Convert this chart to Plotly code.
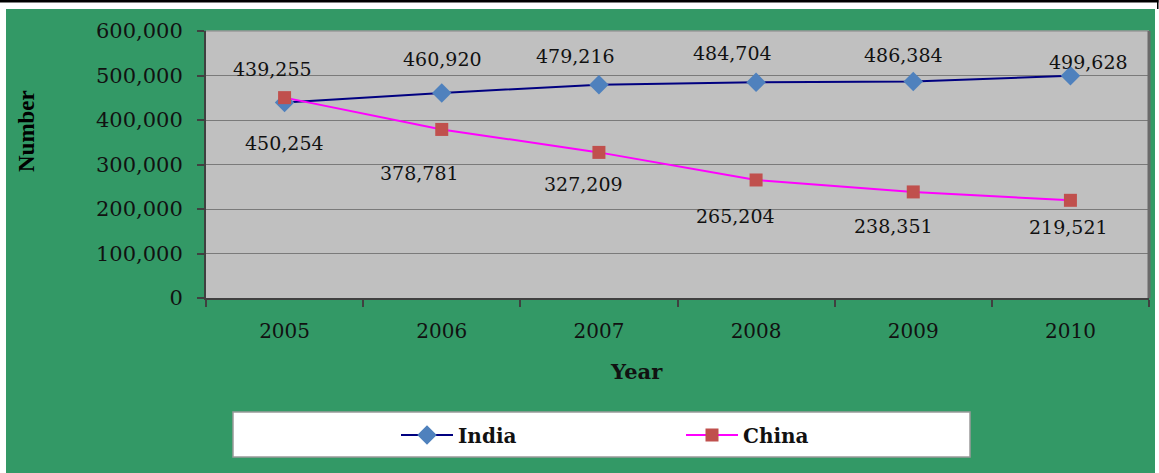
import plotly.graph_objects as go

years = ["2005", "2006", "2007", "2008", "2009", "2010"]
india = [439255, 460920, 479216, 484704, 486384, 499628]
china = [450254, 378781, 327209, 265204, 238351, 219521]

# label offsets (px) relative to each point: (dx, dy up)
india_lbl_off = [(-12, 34), (1, 34), (-23, 29), (-24, 29), (-10, 27), (18, 14)]
china_lbl_off = [(0, -45), (-22, -44), (-15, -32), (-21, -36), (-20, -34), (-2, -27)]

W, H = 1159, 473
L, R, T, B = 206, 10, 31, 175
PW, PH = W - L - R, H - T - B

def fx(px):
    return (px - L) / PW

def fy(py):
    return (H - B - py) / PH

GREEN = "#339966"
SERIF = "DejaVu Serif"

fig = go.Figure()
fig.add_trace(go.Scatter(
    x=years, y=india, name="<b>India</b>", mode="lines+markers",
    line=dict(color="#000080", width=2),
    marker=dict(symbol="diamond", size=15, color="#4F81BD"),
))
fig.add_trace(go.Scatter(
    x=years, y=china, name="<b>China</b>", mode="lines+markers",
    line=dict(color="#FF00FF", width=2),
    marker=dict(symbol="square", size=13, color="#C0504D"),
))

annotations = []
for i, (v, (dx, dy)) in enumerate(zip(india, india_lbl_off)):
    annotations.append(dict(x=i, y=v, xref="x", yref="y", text=f"{v:,}", showarrow=False,
                            xshift=dx, yshift=dy,
                            font=dict(family=SERIF, size=19, color="#111")))
for i, (v, (dx, dy)) in enumerate(zip(china, china_lbl_off)):
    annotations.append(dict(x=i, y=v, xref="x", yref="y", text=f"{v:,}", showarrow=False,
                            xshift=dx, yshift=dy,
                            font=dict(family=SERIF, size=19, color="#111")))
annotations.append(dict(xref="paper", yref="paper", x=fx(26), y=fy(131),
                        xanchor="center", yanchor="middle",
                        text="<b>Number</b>", textangle=-90, showarrow=False,
                        font=dict(family="Liberation Serif", size=23, color="#000")))
annotations.append(dict(xref="paper", yref="paper", x=fx(636), y=fy(371),
                        xanchor="center", yanchor="middle",
                        text="<b>Year</b>", showarrow=False,
                        font=dict(family=SERIF, size=21, color="#111")))

shapes = [
    dict(type="rect", xref="paper", yref="paper", x0=fx(-2), x1=fx(6), y0=fy(H + 2), y1=fy(-2),
         fillcolor="white", line_width=0, layer="below"),
    dict(type="rect", xref="paper", yref="paper", x0=fx(-2), x1=fx(W + 2), y0=fy(9), y1=fy(-2),
         fillcolor="white", line_width=0, layer="below"),
    dict(type="rect", xref="paper", yref="paper", x0=fx(1155), x1=fx(W + 2), y0=fy(H + 2), y1=fy(-2),
         fillcolor="white", line_width=0, layer="below"),
    dict(type="rect", xref="paper", yref="paper", x0=fx(-2), x1=fx(1158.5), y0=fy(2.5), y1=fy(-2),
         fillcolor="black", line_width=0, layer="above"),
    dict(type="rect", xref="paper", yref="paper", x0=fx(1157), x1=fx(1158.5), y0=fy(9), y1=fy(-2),
         fillcolor="black", line_width=0, layer="above"),
    dict(type="rect", xref="paper", yref="paper", x0=fx(233), x1=fx(970), y0=fy(457), y1=fy(412),
         fillcolor="white", line=dict(color="#9a9a9a", width=1.5), layer="below"),
    dict(type="line", xref="paper", yref="paper", x0=0, x1=1, y0=1, y1=1,
         line=dict(color="#9a9a9a", width=1.5), layer="above"),
    dict(type="line", xref="paper", yref="paper", x0=1, x1=1, y0=0, y1=1,
         line=dict(color="#6a6a6a", width=3), layer="above"),
]

fig.update_layout(
    width=W, height=H,
    margin=dict(l=L, r=R, t=T, b=B),
    paper_bgcolor=GREEN,
    plot_bgcolor="#C0C0C0",
    showlegend=True,
    legend=dict(orientation="h", x=fx(396), y=fy(435), xanchor="left", yanchor="middle",
                bgcolor="rgba(0,0,0,0)", borderwidth=0,
                entrywidth=218, entrywidthmode="pixels",
                itemwidth=52,
                font=dict(family=SERIF, size=20, color="#111")),
    annotations=annotations,
    shapes=shapes,
    font=dict(family=SERIF, color="#111"),
)

fig.update_xaxes(
    type="category", tickson="boundaries", ticks="outside", ticklen=7,
    tickcolor="#404040", tickwidth=1.5,
    showline=True, linecolor="#404040", linewidth=2,
    showgrid=False, zeroline=False,
    tickfont=dict(family=SERIF, size=20, color="#111"),
    ticklabelstandoff=14,
    range=[-0.5, 5.5],
)
fig.update_yaxes(
    range=[0, 600000], dtick=100000, tickformat=",",
    ticks="outside", ticklen=7, tickcolor="#404040", tickwidth=1.5,
    showline=True, linecolor="#404040", linewidth=2,
    showgrid=True, gridcolor="#7a7a7a", gridwidth=1,
    zeroline=False,
    tickfont=dict(family=SERIF, size=21, color="#111"),
    ticklabelstandoff=10,
)

fig.write_html("out.html", config={"displayModeBar": False},
               post_script="document.body.style.margin='0';document.body.style.overflow='hidden';")
